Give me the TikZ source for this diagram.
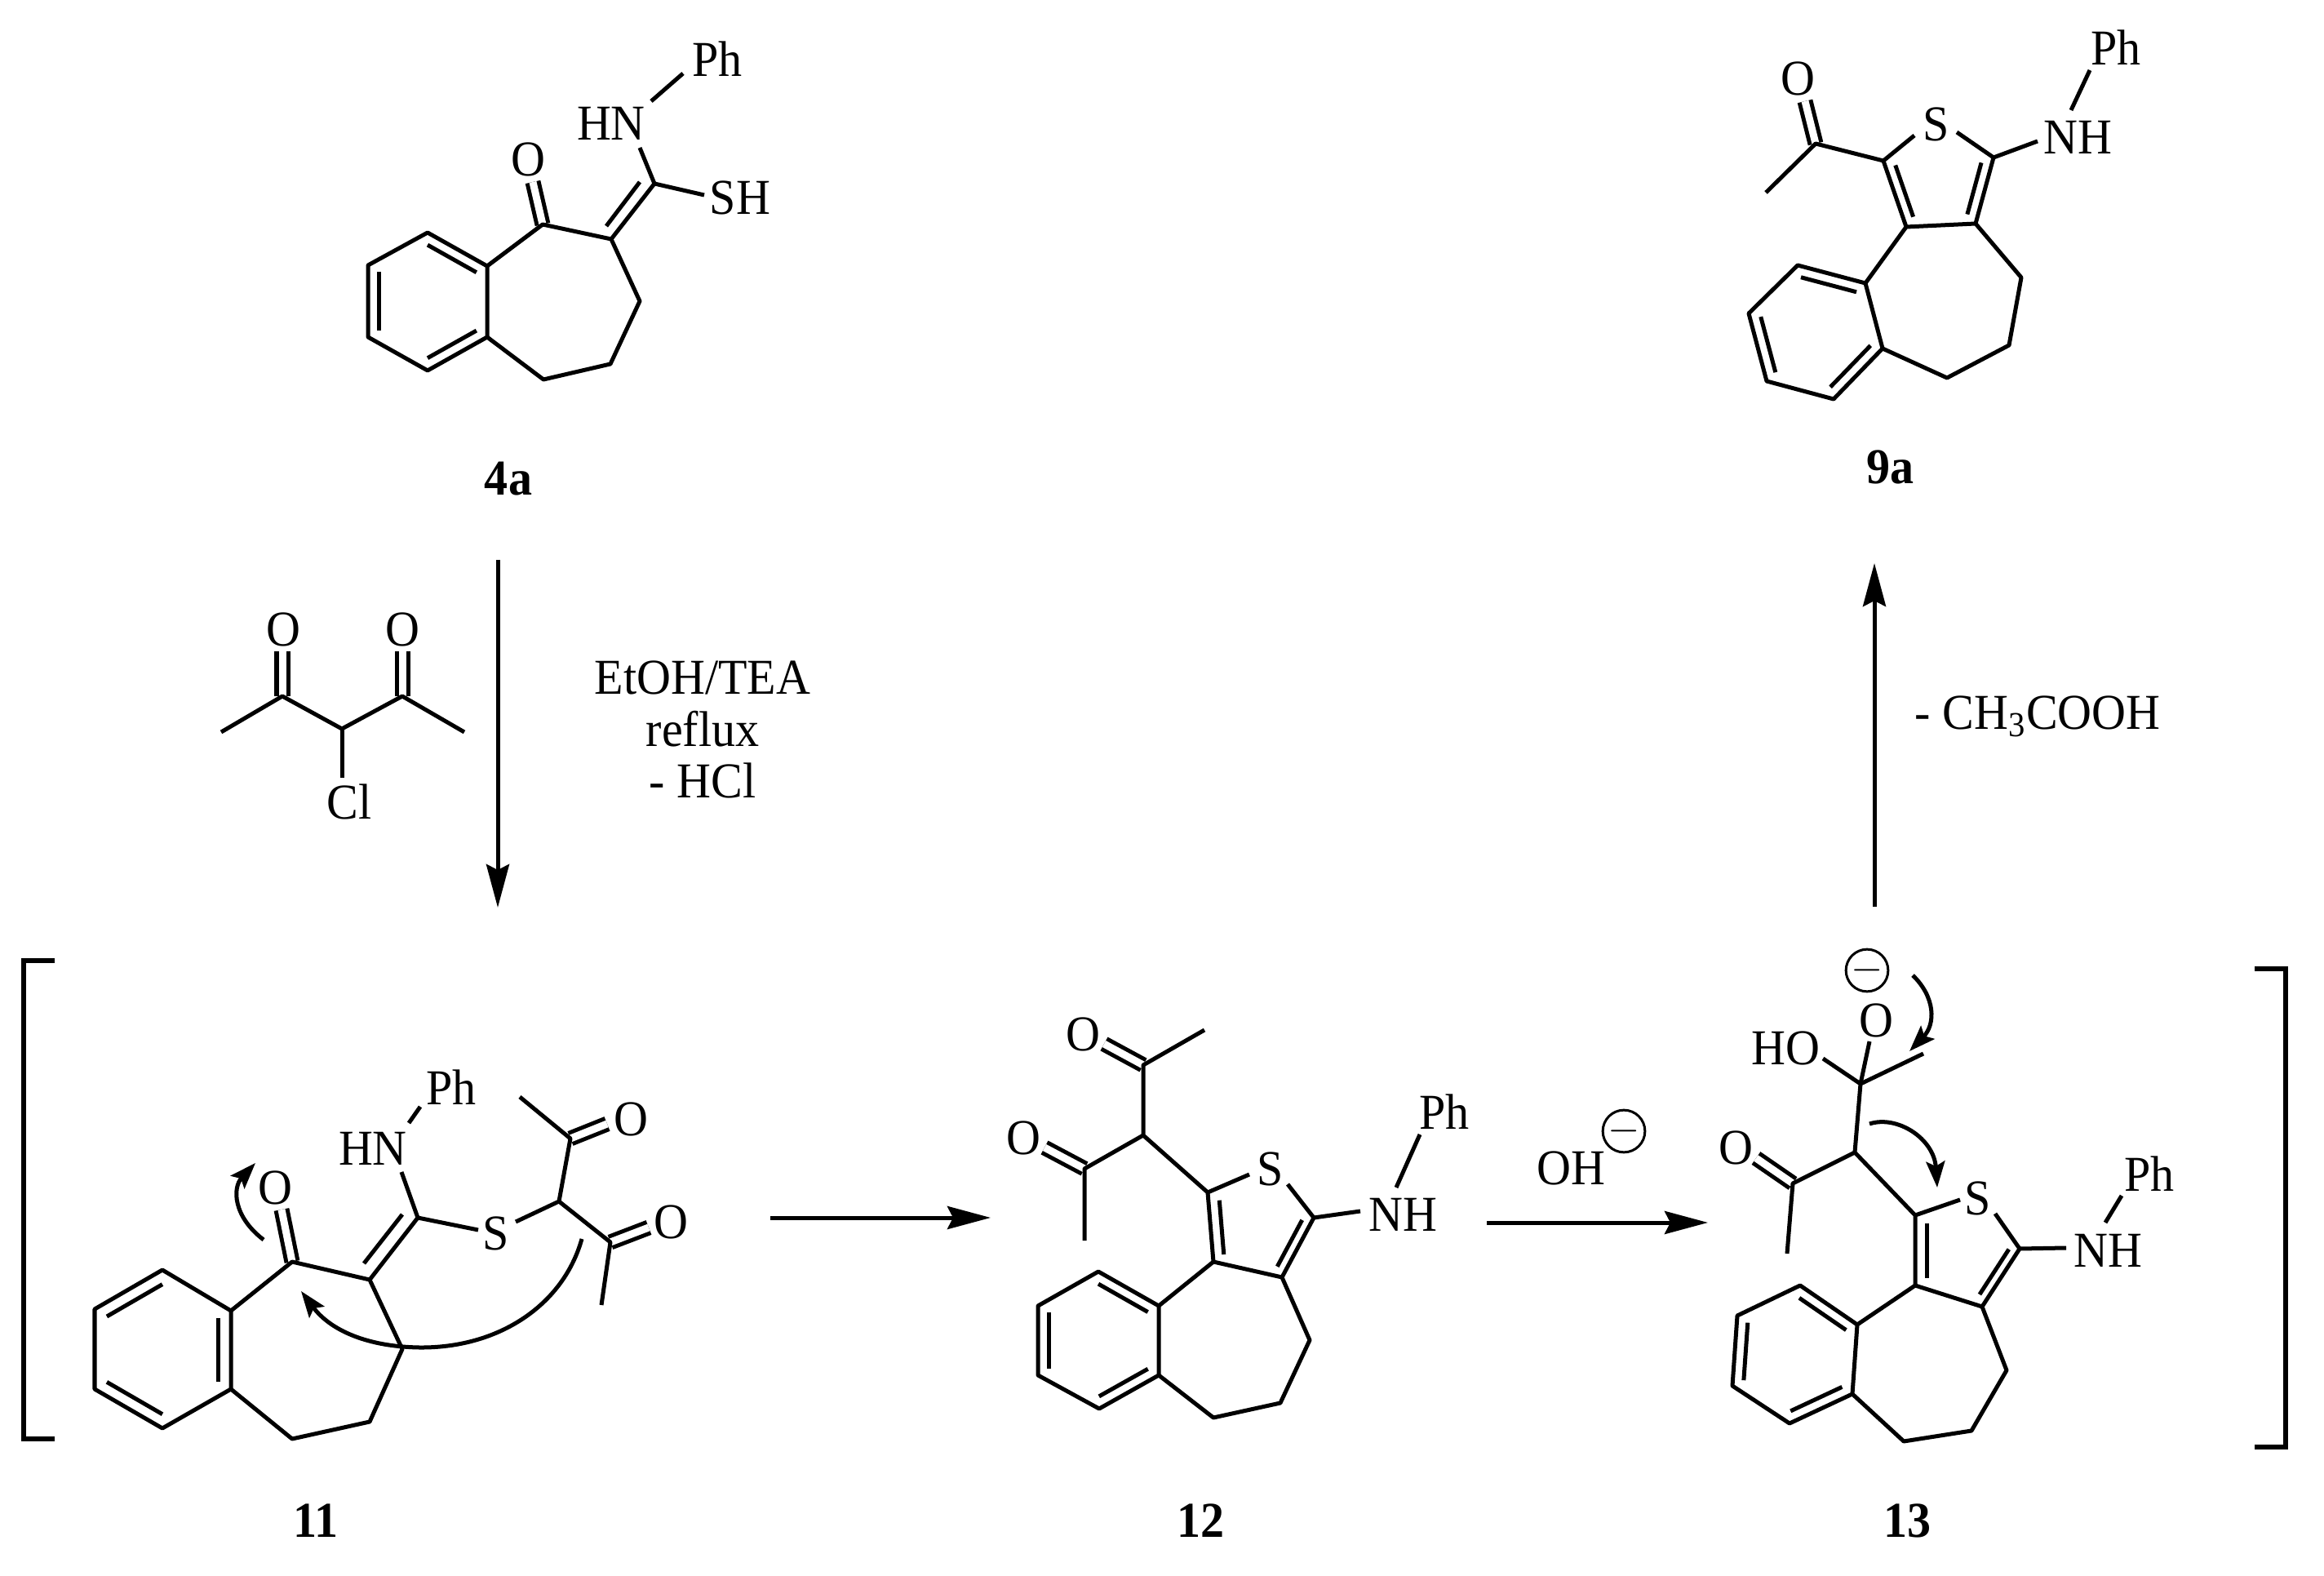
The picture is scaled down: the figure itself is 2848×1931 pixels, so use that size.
\documentclass[tikz,border=0pt]{standalone}
\usepackage{fontspec}
\setmainfont{Liberation Serif}
\usetikzlibrary{arrows.meta, calc}

\begin{document}
\begin{tikzpicture}[x=0.01cm, y=-0.01cm,
    bond/.style={line width=0.05cm, line join=round},
    dblbond/.style={bond, double, double distance=0.09cm},
    rxn/.style={bond, -{Stealth[length=0.53cm, width=0.28cm, inset=0.07cm]}},
    push/.style={bond, -{Stealth[length=0.32cm, width=0.23cm, inset=0.06cm]}},
    rim/.style={line width=0.06cm, line join=miter},
    atom/.style={inner sep=0pt, yscale=1.06, transform shape, font=\fontsize{16.5}{17}\selectfont},
    tag/.style={atom, font=\fontsize{16.5}{17}\selectfont\bfseries},
    anion/.style={circle, draw, line width=0.03cm, inner sep=0pt, minimum size=0.4cm, font=\fontsize{14}{14}\selectfont}]
    \useasboundingbox (0,0) rectangle (2848,1931);

    % Composto 4a
    \coordinate (a1) at (524,285); \coordinate (a2) at (451,325); \coordinate (a3) at (451,413);
    \coordinate (a4) at (524,454); \coordinate (a5) at (597,413); \coordinate (a6) at (597,326);
    \coordinate (a7) at (665,275); \coordinate (a8) at (749,293); \coordinate (a9) at (784,369);
    \coordinate (a10) at (748,446); \coordinate (a11) at (666,465); \coordinate (a12) at (802,225);
    \coordinate (ac) at (524,369); \coordinate (aoe) at (653,223); \coordinate (ai1) at (743,277);
    \coordinate (ai2) at (784,223); \coordinate (ahn) at (784,181); \coordinate (an1) at (798,124);
    \coordinate (an2) at (837,90); \coordinate (ash) at (863,239);
    \node[atom] (aO) at (647,195) {O};
    \node[atom] (aHN) at (749,151) {HN};
    \node[atom] (aPh) at (879,72) {Ph};
    \node[atom] (aSH) at (907,242) {SH};
    \node[tag] (tag4a) at (623,587) {4a};
    \draw[dblbond] (aoe) -- (a7);
    \draw[bond] (a1) -- (a2) -- (a3) -- (a4) -- (a5) -- (a6) -- cycle;
    \draw[bond] (a6) -- (a7) -- (a8) -- (a9) -- (a10) -- (a11) -- (a5);
    \draw[bond] (a8) -- (a12) -- (ash);
    \draw[bond] (a12) -- (ahn);
    \draw[bond] (an1) -- (an2);
    \draw[bond] (ai1) -- (ai2);
    \foreach \p/\q in {a1/a6, a2/a3, a4/a5}
        \draw[bond] ($(\p)!0.18!(ac)$) -- ($(\q)!0.18!(ac)$);

    % Reagente
    \coordinate (r1) at (271,897); \coordinate (r2) at (346,853); \coordinate (r3) at (419,893);
    \coordinate (r4) at (493,853); \coordinate (r5) at (569,897); \coordinate (rcl) at (419,953);
    \coordinate (ro1) at (346,798); \coordinate (ro2) at (493,798);
    \node[atom] (rO1) at (347,771) {O};
    \node[atom] (rO2) at (493,771) {O};
    \node[atom] (rCl) at (428,982) {Cl};
    \draw[dblbond] (ro1) -- (r2);
    \draw[dblbond] (ro2) -- (r4);
    \draw[bond] (r1) -- (r2) -- (r3) -- (r4) -- (r5);
    \draw[bond] (r3) -- (rcl);
    \node[atom, align=center, font=\fontsize{16.5}{17}\selectfont] (cond) at (861,894) {EtOH/TEA\\reflux\\- HCl};

    % Setas da reacao
    \coordinate (s1) at (610,686); \coordinate (e1) at (610,1112);
    \coordinate (s2) at (944,1492); \coordinate (e2) at (1214,1492);
    \coordinate (s3) at (1822,1498); \coordinate (e3) at (2093,1498);
    \coordinate (s4) at (2297,1111); \coordinate (e4) at (2297,690);
    \draw[rxn] (s1) -- (e1);
    \draw[rxn] (s2) -- (e2);
    \draw[rxn] (s3) -- (e3);
    \draw[rxn] (s4) -- (e4);
    \node[atom] (oh) at (1925,1431) {OH};
    \node[anion] (ohm) at (1990,1386) {$-$};
    \node[atom] (lose) at (2497,878) {- CH\textsubscript{3}COOH};

    % Composto 9a
    \coordinate (b1) at (2203,325); \coordinate (b2) at (2143,384); \coordinate (b3) at (2165,467);
    \coordinate (b4) at (2247,489); \coordinate (b5) at (2307,427); \coordinate (b6) at (2286,347);
    \coordinate (b7) at (2336,278); \coordinate (b8) at (2421,274); \coordinate (b9) at (2443,193);
    \coordinate (b10) at (2308,197); \coordinate (b11) at (2477,340); \coordinate (b12) at (2462,423);
    \coordinate (b13) at (2386,463); \coordinate (b14) at (2225,176); \coordinate (b15) at (2164,236);
    \coordinate (bc) at (2225,407); \coordinate (bt) at (2375,222); \coordinate (boe) at (2212,124);
    \coordinate (bs1) at (2346,166); \coordinate (bs2) at (2398,162); \coordinate (bnh) at (2497,173);
    \coordinate (bn1) at (2538,135); \coordinate (bn2) at (2561,86);
    \node[atom] (bO) at (2203,96) {O};
    \node[atom] (bS) at (2373,152) {S};
    \node[atom] (bNH) at (2546,168) {NH};
    \node[atom] (bPh) at (2593,58) {Ph};
    \node[tag] (tag9a) at (2316,572) {9a};
    \draw[dblbond] (boe) -- (b14);
    \draw[bond] (b1) -- (b2) -- (b3) -- (b4) -- (b5) -- (b6) -- cycle;
    \draw[bond] (b6) -- (b7) -- (b8) -- (b11) -- (b12) -- (b13) -- (b5);
    \draw[bond] (b15) -- (b14) -- (b10) -- (b7);
    \draw[bond] (b10) -- (bs1);
    \draw[bond] (bs2) -- (b9) -- (b8);
    \draw[bond] (b9) -- (bnh);
    \draw[bond] (bn1) -- (bn2);
    \foreach \p/\q in {b1/b6, b2/b3, b4/b5}
        \draw[bond] ($(\p)!0.18!(bc)$) -- ($(\q)!0.18!(bc)$);
    \foreach \p/\q in {b10/b7, b9/b8}
        \draw[bond] ($(\p)!0.22!(bt)$) -- ($(\q)!0.22!(bt)$);

    % Colchetes
    \coordinate (bl1) at (67,1177); \coordinate (bl2) at (29,1177); \coordinate (bl3) at (29,1763); \coordinate (bl4) at (67,1763);
    \coordinate (br1) at (2763,1187); \coordinate (br2) at (2801,1187); \coordinate (br3) at (2801,1773); \coordinate (br4) at (2763,1773);
    \draw[rim] (bl1) -- (bl2) -- (bl3) -- (bl4);
    \draw[rim] (br1) -- (br2) -- (br3) -- (br4);

    % Composto 11
    \coordinate (c1) at (199,1556); \coordinate (c2) at (116,1604); \coordinate (c3) at (116,1702);
    \coordinate (c4) at (199,1750); \coordinate (c5) at (283,1702); \coordinate (c6) at (283,1606);
    \coordinate (c7) at (358,1546); \coordinate (c8) at (453,1568); \coordinate (c9) at (493,1653);
    \coordinate (c10) at (453,1742); \coordinate (c11) at (358,1763); \coordinate (c12) at (512,1492);
    \coordinate (c13) at (685,1472); \coordinate (c14) at (699,1395); \coordinate (c15) at (637,1344);
    \coordinate (c16) at (748,1522); \coordinate (c17) at (737,1599);
    \coordinate (cc) at (199,1654); \coordinate (coe) at (345,1482); \coordinate (coe2) at (744,1377);
    \coordinate (coe3) at (795,1504); \coordinate (ci1) at (446,1548); \coordinate (ci2) at (493,1488);
    \coordinate (chn) at (492,1436); \coordinate (cn1) at (501,1376); \coordinate (cn2) at (515,1356);
    \coordinate (cs1) at (586,1507); \coordinate (cs2) at (632,1497);
    \coordinate (cp1) at (323,1519); \coordinate (cp2) at (313,1425);
    \coordinate (cp3) at (713,1518); \coordinate (cp4) at (514,1651); \coordinate (cp5) at (369,1582);
    \node[atom] (cO) at (337,1455) {O};
    \node[atom] (cHN) at (457,1407) {HN};
    \node[atom] (cPh) at (553,1332) {Ph};
    \node[atom] (cS) at (608,1511) {S};
    \node[atom] (cO2) at (773,1371) {O};
    \node[atom] (cO3) at (822,1497) {O};
    \node[tag] (tag11) at (387,1863) {11};
    \draw[dblbond] (coe) -- (c7);
    \draw[dblbond] (coe2) -- (c14);
    \draw[dblbond] (coe3) -- (c16);
    \draw[bond] (c1) -- (c2) -- (c3) -- (c4) -- (c5) -- (c6) -- cycle;
    \draw[bond] (c6) -- (c7) -- (c8) -- (c9) -- (c10) -- (c11) -- (c5);
    \draw[bond] (c8) -- (c12) -- (cs1);
    \draw[bond] (c12) -- (chn);
    \draw[bond] (cn1) -- (cn2);
    \draw[bond] (ci1) -- (ci2);
    \draw[bond] (cs2) -- (c13) -- (c14) -- (c15);
    \draw[bond] (c13) -- (c16) -- (c17);
    \foreach \p/\q in {c1/c2, c3/c4, c5/c6}
        \draw[bond] ($(\p)!0.18!(cc)$) -- ($(\q)!0.18!(cc)$);
    \draw[push] (cp1) .. controls (285,1490) and (285,1455) .. (cp2);
    \draw[push] (cp3) .. controls (690,1600) and (610,1652) .. (cp4) .. controls (450,1650) and (405,1630) .. (cp5);

    % Composto 12
    \coordinate (d1) at (1346,1558); \coordinate (d2) at (1272,1600); \coordinate (d3) at (1272,1685);
    \coordinate (d4) at (1347,1726); \coordinate (d5) at (1420,1685); \coordinate (d6) at (1420,1600);
    \coordinate (d7) at (1487,1546); \coordinate (d8) at (1571,1565); \coordinate (d9) at (1610,1492);
    \coordinate (d10) at (1480,1461); \coordinate (d11) at (1605,1642); \coordinate (d12) at (1569,1719);
    \coordinate (d13) at (1487,1737); \coordinate (d14) at (1401,1391); \coordinate (d15) at (1401,1305);
    \coordinate (d16) at (1476,1262); \coordinate (d17) at (1329,1432); \coordinate (d18) at (1329,1520);
    \coordinate (dc) at (1346,1642); \coordinate (dt) at (1545,1505); \coordinate (doe) at (1353,1279);
    \coordinate (doe2) at (1280,1406); \coordinate (ds1) at (1531,1439); \coordinate (ds2) at (1578,1451);
    \coordinate (dnh) at (1667,1484); \coordinate (dn1) at (1711,1455); \coordinate (dn2) at (1740,1390);
    \node[atom] (dO) at (1327,1267) {O};
    \node[atom] (dO2) at (1254,1394) {O};
    \node[atom] (dS) at (1557,1432) {S};
    \node[atom] (dNH) at (1719,1488) {NH};
    \node[atom] (dPh) at (1770,1362) {Ph};
    \node[tag] (tag12) at (1471,1863) {12};
    \draw[dblbond] (doe) -- (d15);
    \draw[dblbond] (doe2) -- (d17);
    \draw[bond] (d1) -- (d2) -- (d3) -- (d4) -- (d5) -- (d6) -- cycle;
    \draw[bond] (d6) -- (d7) -- (d8) -- (d11) -- (d12) -- (d13) -- (d5);
    \draw[bond] (d7) -- (d10) -- (d14) -- (d15) -- (d16);
    \draw[bond] (d14) -- (d17) -- (d18);
    \draw[bond] (d10) -- (ds1);
    \draw[bond] (ds2) -- (d9) -- (d8);
    \draw[bond] (d9) -- (dnh);
    \draw[bond] (dn1) -- (dn2);
    \foreach \p/\q in {d1/d6, d2/d3, d4/d5}
        \draw[bond] ($(\p)!0.18!(dc)$) -- ($(\q)!0.18!(dc)$);
    \foreach \p/\q in {d10/d7, d9/d8}
        \draw[bond] ($(\p)!0.22!(dt)$) -- ($(\q)!0.22!(dt)$);

    % Composto 13
    \coordinate (e1a) at (2206,1575); \coordinate (e2a) at (2129,1612); \coordinate (e3a) at (2123,1698);
    \coordinate (e4a) at (2193,1744); \coordinate (e5a) at (2270,1708); \coordinate (e6a) at (2276,1623);
    \coordinate (e7a) at (2347,1575); \coordinate (e8a) at (2429,1601); \coordinate (e9a) at (2475,1530);
    \coordinate (e10a) at (2347,1489); \coordinate (e11a) at (2459,1679); \coordinate (e12a) at (2416,1753);
    \coordinate (e13a) at (2333,1766); \coordinate (e14a) at (2273,1412); \coordinate (e15a) at (2280,1328);
    \coordinate (e16a) at (2357,1291); \coordinate (e17a) at (2197,1450); \coordinate (e18a) at (2190,1536);
    \coordinate (ec) at (2200,1660); \coordinate (et) at (2415,1533); \coordinate (eoe) at (2152,1419);
    \coordinate (eho) at (2234,1297); \coordinate (eox) at (2291,1276);
    \coordinate (es1) at (2402,1470); \coordinate (es2) at (2445,1487); \coordinate (enh) at (2532,1529);
    \coordinate (en1) at (2580,1498); \coordinate (en2) at (2600,1465);
    \coordinate (ep1) at (2344,1195); \coordinate (ep2) at (2340,1288);
    \coordinate (ep3) at (2291,1377); \coordinate (ep4) at (2374,1455);
    \node[atom] (eO) at (2127,1406) {O};
    \node[atom] (eHO) at (2188,1284) {HO};
    \node[atom] (eOx) at (2299,1250) {O};
    \node[anion] (eMinus) at (2288,1189) {$-$};
    \node[atom] (eS) at (2424,1468) {S};
    \node[atom] (eNH) at (2583,1532) {NH};
    \node[atom] (ePh) at (2634,1438) {Ph};
    \node[tag] (tag13) at (2337,1863) {13};
    \draw[dblbond] (eoe) -- (e17a);
    \draw[bond] (e1a) -- (e2a) -- (e3a) -- (e4a) -- (e5a) -- (e6a) -- cycle;
    \draw[bond] (e6a) -- (e7a) -- (e8a) -- (e11a) -- (e12a) -- (e13a) -- (e5a);
    \draw[bond] (e7a) -- (e10a) -- (e14a) -- (e15a) -- (e16a);
    \draw[bond] (e14a) -- (e17a) -- (e18a);
    \draw[bond] (eho) -- (e15a) -- (eox);
    \draw[bond] (e10a) -- (es1);
    \draw[bond] (es2) -- (e9a) -- (e8a);
    \draw[bond] (e9a) -- (enh);
    \draw[bond] (en1) -- (en2);
    \foreach \p/\q in {e1a/e6a, e2a/e3a, e4a/e5a}
        \draw[bond] ($(\p)!0.18!(ec)$) -- ($(\q)!0.18!(ec)$);
    \foreach \p/\q in {e10a/e7a, e9a/e8a}
        \draw[bond] ($(\p)!0.22!(et)$) -- ($(\q)!0.22!(et)$);
    \draw[push] (ep1) .. controls (2372,1222) and (2372,1255) .. (ep2);
    \draw[push] (ep3) .. controls (2325,1366) and (2370,1395) .. (ep4);
\end{tikzpicture}
\end{document}
